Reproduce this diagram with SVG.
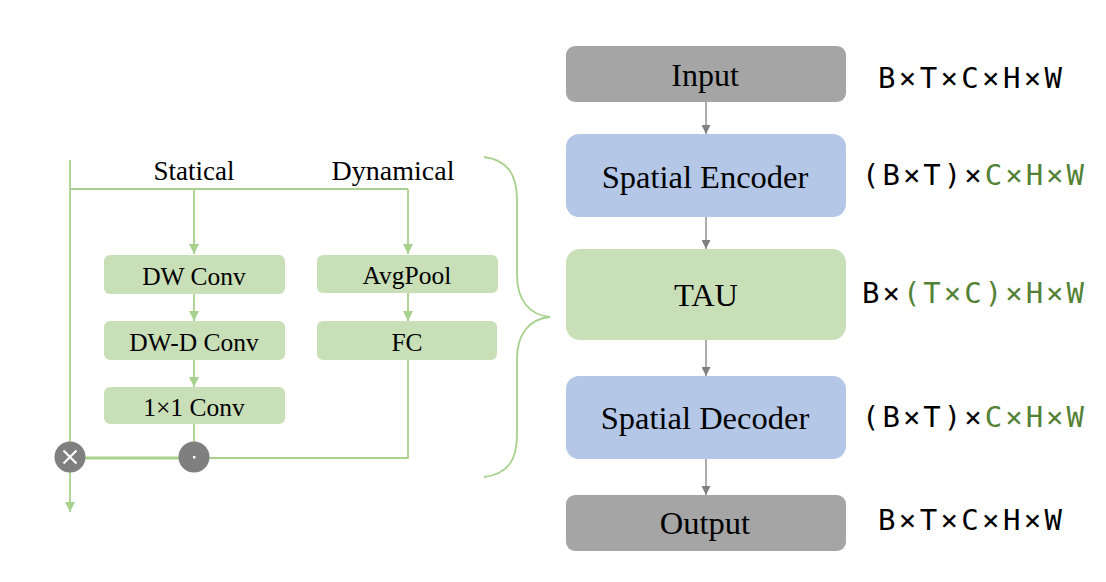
<svg xmlns="http://www.w3.org/2000/svg" width="1106" height="582" viewBox="0 0 1106 582">
<defs>
<style>
.serif{font-family:"Liberation Serif","Times New Roman",serif;fill:#000}
.mono{font-family:"DejaVu Sans Mono","Liberation Mono",monospace;font-size:29px;fill:#000}
.g{fill:#548235}
.gl{stroke:#a9d18e;stroke-width:1.8;fill:none}
.gr{stroke:#808080;stroke-width:1.3;fill:none}
.gbox{fill:#c9dfb8}
.bbox{fill:#b4c7e7}
.kbox{fill:#a5a5a5}
</style>
<marker id="ag" viewBox="0 0 10 10" refX="10" refY="5" markerWidth="11" markerHeight="10" markerUnits="userSpaceOnUse" orient="auto">
<path d="M0,0 L10,5 L0,10 Z" fill="#a9d18e"/>
</marker>
<marker id="ak" viewBox="0 0 10 10" refX="10" refY="5" markerWidth="10" markerHeight="9" markerUnits="userSpaceOnUse" orient="auto">
<path d="M0,0 L10,5 L0,10 Z" fill="#808080"/>
</marker>
</defs>

<g id="connectors">
<path class="gl" d="M70,160 L70,512" marker-end="url(#ag)"/>
<path class="gl" d="M70,189 L408,189"/>
<path class="gl" d="M194,189 L194,254" marker-end="url(#ag)"/>
<path class="gl" d="M408,189 L408,254" marker-end="url(#ag)"/>
<path class="gl" d="M194,294 L194,321" marker-end="url(#ag)"/>
<path class="gl" d="M194,360 L194,387" marker-end="url(#ag)"/>
<path class="gl" d="M408,293 L408,321" marker-end="url(#ag)"/>
<path class="gl" d="M194,424 L194,442"/>
<path class="gl" d="M408,360 L408,458 L209,458"/>
<path class="gl" style="stroke-width:3" d="M85,458 L179,458"/>
<path class="gl" d="M484,157 C508,160 517,175 517,200 L517,275 C517,301 530,315 550,317 C530,319 517,333 517,359 L517,435 C517,460 508,474 484,477"/>
<path class="gr" d="M706,102 L706,134" marker-end="url(#ak)"/>
<path class="gr" d="M706,217 L706,249" marker-end="url(#ak)"/>
<path class="gr" d="M706,340 L706,376" marker-end="url(#ak)"/>
<path class="gr" d="M706,459 L706,495" marker-end="url(#ak)"/>
</g>

<g id="label-statical"><text class="serif" x="194" y="180" font-size="27" text-anchor="middle">Statical</text></g>
<g id="label-dynamical"><text class="serif" x="393" y="180" font-size="28" text-anchor="middle">Dynamical</text></g>

<g id="dwconv">
<rect class="gbox" x="104" y="255" width="181" height="39" rx="6"/>
<text class="serif" x="194" y="285" font-size="25.5" text-anchor="middle">DW Conv</text>
</g>
<g id="dwdconv">
<rect class="gbox" x="104" y="321" width="181" height="39" rx="6"/>
<text class="serif" x="194" y="351" font-size="25.5" text-anchor="middle">DW-D Conv</text>
</g>
<g id="conv1x1">
<rect class="gbox" x="104" y="387" width="181" height="37" rx="6"/>
<text class="serif" x="194" y="416" font-size="25.5" text-anchor="middle">1×1 Conv</text>
</g>
<g id="avgpool">
<rect class="gbox" x="317" y="255" width="181" height="38" rx="6"/>
<text class="serif" x="407" y="284" font-size="25.5" text-anchor="middle">AvgPool</text>
</g>
<g id="fc">
<rect class="gbox" x="317" y="321" width="180" height="39" rx="6"/>
<text class="serif" x="407" y="351" font-size="25.5" text-anchor="middle">FC</text>
</g>

<g id="mul">
<circle cx="70" cy="457" r="15.5" fill="#7f7f7f"/>
<path d="M63.5,450.5 L76.5,463.5 M76.5,450.5 L63.5,463.5" stroke="#fff" stroke-width="2.2"/>
</g>
<g id="dot">
<circle cx="194" cy="457" r="15.5" fill="#7f7f7f"/>
<rect x="193" y="456" width="2.4" height="2.4" fill="#fff"/>
</g>

<g id="input">
<rect class="kbox" x="566" y="46" width="280" height="56" rx="9"/>
<text class="serif" x="705" y="86" font-size="32" text-anchor="middle">Input</text>
</g>
<g id="encoder">
<rect class="bbox" x="566" y="134" width="280" height="83" rx="13"/>
<text class="serif" x="705" y="188" font-size="32.5" text-anchor="middle">Spatial Encoder</text>
</g>
<g id="tau">
<rect class="gbox" x="566" y="249" width="280" height="91" rx="14"/>
<text class="serif" x="706" y="306" font-size="32.5" text-anchor="middle">TAU</text>
</g>
<g id="decoder">
<rect class="bbox" x="566" y="376" width="280" height="83" rx="13"/>
<text class="serif" x="705" y="429" font-size="32.5" text-anchor="middle">Spatial Decoder</text>
</g>
<g id="output">
<rect class="kbox" x="566" y="495" width="280" height="56" rx="9"/>
<text class="serif" x="705" y="534" font-size="32.5" text-anchor="middle">Output</text>
</g>

<g id="shapes">
<text class="mono" x="878" y="88" textLength="184" lengthAdjust="spacing">B×T×C×H×W</text>
<text class="mono" x="862" y="185" textLength="222" lengthAdjust="spacing">(B×T)×<tspan class="g">C×H×W</tspan></text>
<text class="mono" x="862" y="303" textLength="222" lengthAdjust="spacing">B×<tspan class="g">(T×C)×H×W</tspan></text>
<text class="mono" x="862" y="427" textLength="222" lengthAdjust="spacing">(B×T)×<tspan class="g">C×H×W</tspan></text>
<text class="mono" x="878" y="530" textLength="184" lengthAdjust="spacing">B×T×C×H×W</text>
</g>
</svg>
